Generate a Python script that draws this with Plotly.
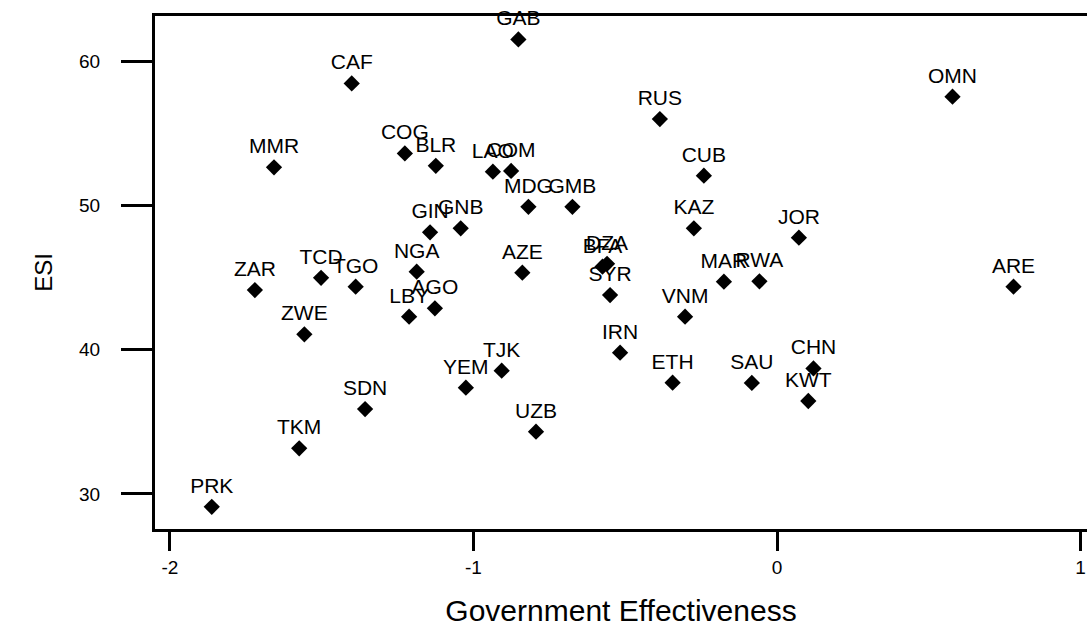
import plotly.graph_objects as go

# Country codes, government effectiveness score and ESI score
codes = [
    "GAB", "CAF", "OMN", "RUS", "MMR", "COG", "BLR", "LAO", "COM", "CUB",
    "MDG", "GMB", "GIN", "GNB", "KAZ", "JOR", "NGA", "TCD", "TGO", "ZAR",
    "AZE", "BFA", "DZA", "SYR", "MAR", "RWA", "ARE", "AGO", "LBY", "VNM",
    "ZWE", "IRN", "TJK", "CHN", "YEM", "ETH", "SAU", "KWT", "SDN", "UZB",
    "TKM", "PRK",
]
gov_effectiveness = [
    -0.852, -1.401, 0.578, -0.386, -1.657, -1.226, -1.124, -0.936, -0.876, -0.241,
    -0.819, -0.674, -1.143, -1.042, -0.274, 0.072, -1.187, -1.502, -1.388, -1.720,
    -0.839, -0.575, -0.560, -0.550, -0.175, -0.058, 0.779, -1.127, -1.212, -0.303,
    -1.557, -0.517, -0.907, 0.120, -1.025, -0.344, -0.083, 0.103, -1.357, -0.794,
    -1.574, -1.862,
]
esi = [
    61.5, 58.45, 57.53, 55.98, 52.63, 53.6, 52.74, 52.33, 52.38, 52.05,
    49.9, 49.9, 48.13, 48.41, 48.41, 47.76, 45.4, 44.98, 44.36, 44.13,
    45.33, 45.75, 45.95, 43.78, 44.71, 44.73, 44.36, 42.86, 42.28, 42.28,
    41.06, 39.79, 38.54, 38.7, 37.36, 37.71, 37.69, 36.44, 35.88, 34.31,
    33.16, 29.11,
]

x_ticks = [-2, -1, 0, 1]
y_ticks = [30, 40, 50, 60]

fig = go.Figure(
    go.Scatter(
        x=gov_effectiveness,
        y=esi,
        text=codes,
        mode="markers+text",
        textposition="top center",
        marker=dict(symbol="diamond", size=12.5, color="black"),
        textfont=dict(family="Liberation Sans, Arial, sans-serif", size=21, color="black"),
        cliponaxis=False,
        hoverinfo="x+y+text",
    )
)

fig.update_layout(
    width=1087,
    height=627,
    margin=dict(l=155, r=0, t=16, b=98),
    paper_bgcolor="white",
    plot_bgcolor="white",
    showlegend=False,
    font=dict(family="Liberation Sans, Arial, sans-serif", color="black"),
)

fig.update_xaxes(
    range=[-2.049, 1.021],
    tickvals=x_ticks,
    ticktext=[str(v) for v in x_ticks],
    ticks="outside",
    ticklen=19,
    tickwidth=3,
    tickcolor="black",
    showline=True,
    linewidth=3,
    linecolor="black",
    mirror=True,
    showgrid=False,
    zeroline=False,
    automargin=False,
    tickfont=dict(size=19),
    ticklabelstandoff=0,
    title=dict(text="Government Effectiveness", font=dict(size=30), standoff=31),
)

fig.update_yaxes(
    range=[27.57, 63.12],
    tickvals=y_ticks,
    ticktext=[str(v) for v in y_ticks],
    ticks="outside",
    ticklen=31,
    tickwidth=3,
    tickcolor="black",
    showline=True,
    linewidth=3,
    linecolor="black",
    mirror=False,
    showgrid=False,
    zeroline=False,
    automargin=False,
    tickfont=dict(size=19),
    ticklabelstandoff=17,
    title=dict(text="ESI", font=dict(size=24), standoff=20),
)

fig.write_html("out.html")
